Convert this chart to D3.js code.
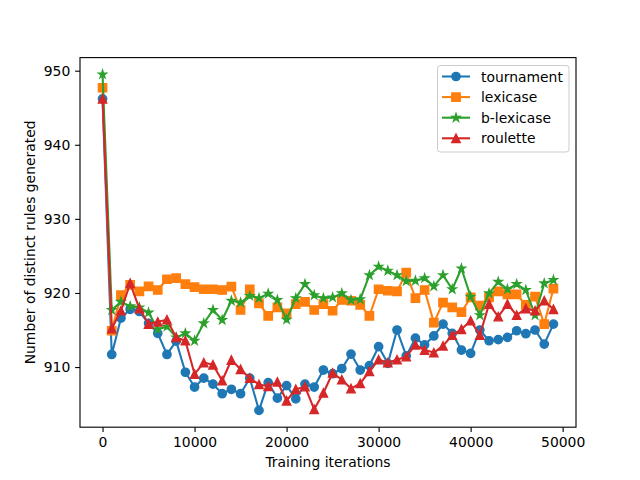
<!DOCTYPE html>
<html>
<head>
<meta charset="utf-8">
<script src="https://cdnjs.cloudflare.com/ajax/libs/d3/7.8.5/d3.min.js"></script>
<style>
  body { margin: 0; background: #fff; }
  svg { font-family: "DejaVu Sans", sans-serif; }
</style>
</head>
<body>
<svg width="640" height="480"></svg>
<script>
// iterations 0, 1000, ..., 49000
var iterations = d3.range(50).map(function (i) { return i * 1000; });

var tournament = [946.2, 911.7, 916.6, 917.8, 917.5, 915.9, 914.55, 911.7, 913.5, 909.3,
	907.3, 908.5, 907.7, 906.4, 907.0, 906.4, 908.5, 904.15, 907.9, 905.8,
	907.5, 905.7, 907.7, 907.3, 909.6, 909.1, 909.8, 911.75, 909.6, 910.2,
	912.75, 910.5, 915.0, 911.5, 913.9, 913.0, 914.2, 915.8, 914.55, 912.3,
	911.85, 915.0, 913.55, 913.7, 914.0, 914.9, 914.5, 915.0, 913.1, 915.8];

var lexicase = [947.7, 914.9, 919.7, 921.1, 920.2, 920.9, 920.4, 921.85, 922.0, 921.2,
	920.8, 920.5, 920.5, 920.4, 920.85, 917.7, 920.5, 918.6, 916.9, 918.05,
	917.25, 918.5, 918.8, 917.7, 918.5, 917.6, 919.05, 918.95, 918.4, 916.9,
	920.5, 920.3, 920.2, 922.75, 919.3, 920.4, 916.0, 918.7, 918.05, 917.4,
	919.4, 918.3, 919.4, 920.2, 919.8, 919.8, 918.4, 919.5, 915.8, 920.6];

var blexicase = [949.5, 917.7, 918.8, 918.2, 918.05, 917.35, 915.1, 915.45, 914.0, 914.55,
	913.55, 915.9, 917.7, 916.35, 918.95, 918.7, 919.6, 919.3, 919.9, 919.05,
	916.4, 919.3, 921.2, 919.7, 919.3, 919.4, 919.95, 919.05, 919.15, 922.4,
	923.55, 923.0, 922.4, 921.6, 921.65, 922.0, 920.9, 922.4, 920.5, 923.3,
	919.5, 917.0, 919.95, 921.5, 920.5, 921.2, 920.4, 917.0, 921.3, 921.75];

var roulette = [946.2, 915.2, 917.6, 921.3, 917.9, 915.8, 916.1, 916.4, 914.0, 913.55,
	909.05, 910.6, 910.3, 908.15, 910.95, 909.7, 908.5, 907.65, 907.4, 908.0,
	905.45, 907.0, 907.35, 904.3, 906.5, 909.2, 908.3, 907.1, 907.8, 909.4,
	911.0, 910.6, 911.0, 911.4, 913.0, 912.3, 911.95, 912.85, 914.3, 915.1,
	916.25, 914.3, 918.5, 916.8, 918.5, 917.0, 917.9, 917.6, 918.95, 917.8];

var seriesNames = ["tournament", "lexicase", "b-lexicase", "roulette"];
var seriesValues = [tournament, lexicase, blexicase, roulette];
var seriesColors = ["#1f77b4", "#ff7f0e", "#2ca02c", "#d62728"];
var seriesMarkers = ["circle", "square", "star", "triangle"];

var xTicks = [0, 10000, 20000, 30000, 40000, 50000];
var yTicks = [910, 920, 930, 940, 950];

var svg = d3.select("svg");
var plotLeft = 80, plotRight = 576, plotTop = 57.6, plotBottom = 427.2;
var px = 100 / 72; // points to px

// matplotlib-like 5% margins
var xmin = d3.min(iterations), xmax = d3.max(iterations);
var xpad = (xmax - xmin) * 0.05;
var allY = d3.merge(seriesValues);
var ymin = d3.min(allY), ymax = d3.max(allY);
var ypad = (ymax - ymin) * 0.05;

var x = d3.scaleLinear().domain([xmin - xpad, xmax + xpad]).range([plotLeft, plotRight]);
var y = d3.scaleLinear().domain([ymin - ypad, ymax + ypad]).range([plotBottom, plotTop]);

var ms = 6 * px; // marker size

function markerPath(kind) {
	var r = ms / 2;
	if (kind === "circle") {
		var p = d3.path();
		p.arc(0, 0, r, 0, 2 * Math.PI);
		p.closePath();
		return p.toString();
	}
	if (kind === "square") {
		return "M" + (-r) + "," + (-r) + "H" + r + "V" + r + "H" + (-r) + "Z";
	}
	if (kind === "triangle") {
		return "M0," + (-r) + "L" + r + "," + r + "L" + (-r) + "," + r + "Z";
	}
	// star
	var pts = [];
	for (var k = 0; k < 10; k++) {
		var rr = k % 2 === 0 ? r : r * 0.381966;
		var a = k * Math.PI / 5;
		pts.push([rr * Math.sin(a), -rr * Math.cos(a)]);
	}
	return "M" + pts.map(function (q) { return q[0].toFixed(2) + "," + q[1].toFixed(2); }).join("L") + "Z";
}

var line = d3.line()
	.x(function (d, i) { return x(iterations[i]); })
	.y(function (d) { return y(d); });

var plot = svg.append("g");

seriesValues.forEach(function (vals, s) {
	var g = plot.append("g");
	g.append("path")
		.attr("d", line(vals))
		.attr("fill", "none")
		.attr("stroke", seriesColors[s])
		.attr("stroke-width", 1.5 * px)
		.attr("stroke-linejoin", "round")
		.attr("stroke-linecap", "square");
	g.selectAll(".m")
		.data(vals)
		.enter()
		.append("path")
		.attr("d", markerPath(seriesMarkers[s]))
		.attr("transform", function (d, i) { return "translate(" + x(iterations[i]) + "," + y(d) + ")"; })
		.attr("fill", seriesColors[s])
		.attr("stroke", seriesColors[s])
		.attr("stroke-width", px)
		.attr("stroke-linejoin", "miter");
});

// axes
var xAxis = d3.axisBottom(x).tickValues(xTicks).tickSize(3.5 * px).tickPadding(3.5 * px).tickFormat(d3.format("d"));
var yAxis = d3.axisLeft(y).tickValues(yTicks).tickSize(3.5 * px).tickPadding(3.5 * px).tickFormat(d3.format("d"));

var gx = svg.append("g").attr("transform", "translate(0," + plotBottom + ")").call(xAxis);
var gy = svg.append("g").attr("transform", "translate(" + plotLeft + ",0)").call(yAxis);
[gx, gy].forEach(function (g) {
	g.select(".domain").remove();
	g.selectAll("line").attr("stroke", "#000").attr("stroke-width", 0.8 * px);
	g.selectAll("text").attr("font-size", "13.9px").attr("fill", "#000").attr("font-family", "DejaVu Sans");
});

svg.append("rect")
	.attr("x", plotLeft).attr("y", plotTop)
	.attr("width", plotRight - plotLeft).attr("height", plotBottom - plotTop)
	.attr("fill", "none").attr("stroke", "#000").attr("stroke-width", 0.8 * px);

svg.append("text")
	.attr("x", (plotLeft + plotRight) / 2).attr("y", 467)
	.attr("text-anchor", "middle").attr("font-size", "13.9px")
	.text("Training iterations");

svg.append("text")
	.attr("transform", "translate(35," + (plotTop + plotBottom) / 2 + ") rotate(-90)")
	.attr("text-anchor", "middle").attr("font-size", "13.9px")
	.text("Number of distinct rules generated");

// legend
var lg = svg.append("g");
lg.append("rect")
	.attr("x", 437.5).attr("y", 65.5).attr("width", 131.5).attr("height", 86.5)
	.attr("rx", 2.8).attr("ry", 2.8)
	.attr("fill", "#fff").attr("fill-opacity", 0.8)
	.attr("stroke", "#cccccc").attr("stroke-width", 1);

seriesNames.forEach(function (name, s) {
	var ry = 76.5 + s * 20.6;
	lg.append("line")
		.attr("x1", 442).attr("x2", 470).attr("y1", ry).attr("y2", ry)
		.attr("stroke", seriesColors[s]).attr("stroke-width", 1.5 * px);
	lg.append("path")
		.attr("d", markerPath(seriesMarkers[s]))
		.attr("transform", "translate(456," + ry + ")")
		.attr("fill", seriesColors[s])
		.attr("stroke", seriesColors[s])
		.attr("stroke-width", px);
	lg.append("text")
		.attr("x", 481).attr("y", ry + 5)
		.attr("font-size", "13.9px")
		.text(name);
});
</script>
</body>
</html>
